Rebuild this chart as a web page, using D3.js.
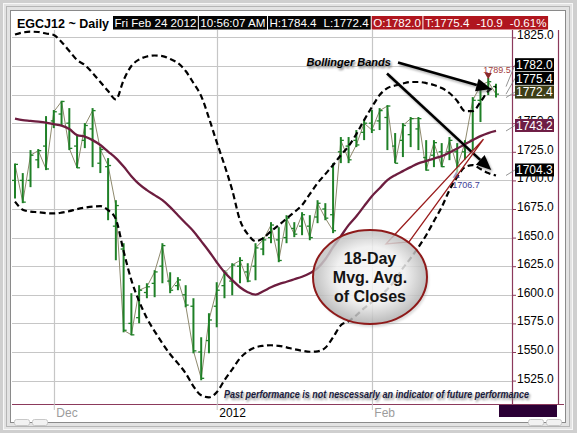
<!DOCTYPE html>
<html><head><meta charset="utf-8">
<script src="https://cdn.jsdelivr.net/npm/d3@7"></script>
<style>body{margin:0;background:#fff}svg{display:block}</style>
</head><body>
<script>
// ---------- DATA ----------
const dates = [
 "2011-11-23","2011-11-25","2011-11-28","2011-11-29","2011-11-30",
 "2011-12-01","2011-12-02","2011-12-05","2011-12-06","2011-12-07","2011-12-08","2011-12-09",
 "2011-12-12","2011-12-13","2011-12-14","2011-12-15","2011-12-16","2011-12-19","2011-12-20",
 "2011-12-21","2011-12-22","2011-12-23","2011-12-27","2011-12-28","2011-12-29","2011-12-30",
 "2012-01-03","2012-01-04","2012-01-05","2012-01-06","2012-01-09","2012-01-10","2012-01-11",
 "2012-01-12","2012-01-13","2012-01-17","2012-01-18","2012-01-19","2012-01-20","2012-01-23",
 "2012-01-24","2012-01-25","2012-01-26","2012-01-27","2012-01-30","2012-01-31",
 "2012-02-01","2012-02-02","2012-02-03","2012-02-06","2012-02-07","2012-02-08","2012-02-09",
 "2012-02-10","2012-02-13","2012-02-14","2012-02-15","2012-02-16","2012-02-17","2012-02-21",
 "2012-02-22","2012-02-23","2012-02-24"];
const opens = [1700,1700,1700,1718,1730,1752,1758,1750,1730,1735,1745,1715,1712,1660,1640,1575,1580,1602,1610,1625,1612,1608,1600,1590,1550,1560,1590,1608,1612,1625,1620,1625,1640,1650,1648,1650,1658,1660,1660,1668,1675,1670,1725,1730,1735,1742,1750,1752,1755,1730,1735,1740,1745,1720,1722,1725,1725,1725,1725,1735,1770,1782,1782.0];
const highs = [1714.8,1706.4,1726.5,1727.4,1756.2,1761.5,1769.6,1763.2,1739.6,1750.1,1763.2,1729.1,1719.5,1682.7,1645.1,1601.4,1608.4,1610.1,1621.5,1645.1,1619.7,1615.4,1608.4,1597.0,1562.9,1583.9,1611.0,1621.5,1627.6,1632.9,1627.6,1645.1,1650.4,1663.5,1659.1,1669.6,1663.5,1672.2,1669.6,1682.7,1680.1,1715.1,1737.9,1737.9,1744.0,1752.7,1761.5,1763.2,1765.8,1741.4,1750.1,1755.4,1755.4,1735.2,1735.2,1732.6,1737.9,1732.6,1735.2,1772.8,1785.1,1789.5,1784.4];
const lows = [1684.2,1680.1,1694.1,1710.7,1709.0,1745.7,1748.4,1726.5,1710.7,1728.2,1711.6,1706.4,1665.2,1630.2,1567.2,1564.6,1575.1,1597.0,1597.9,1610.1,1601.4,1604.0,1589.1,1548.9,1525.3,1548.9,1571.6,1597.0,1599.6,1610.1,1611.0,1612.7,1634.6,1645.1,1628.5,1645.1,1650.4,1652.1,1647.7,1662.6,1665.2,1653.9,1715.1,1715.1,1729.1,1735.2,1741.4,1744.0,1726.5,1715.1,1720.4,1729.1,1726.5,1708.5,1711.6,1711.6,1717.7,1706.7,1717.7,1726.5,1751.0,1774.6,1772.4];
const closes = [1714,1681,1722,1726,1710,1760,1769,1728,1711,1748,1761,1727,1713,1678,1569,1565,1604,1607,1620,1643,1604,1613,1591,1551,1527,1578,1604,1619,1626,1630,1612,1641,1648,1661,1630,1667,1653,1670,1650,1680,1667,1656,1735,1718,1731,1750,1744,1761,1765,1715,1748,1754,1754,1709,1733,1712,1735,1712,1733,1770,1783,1786.3,1775.4];
const ma18 = [1754.0,1752.7,1752.1,1751.4,1750.5,1749.2,1747.9,1744.9,1739.6,1738.3,1735.2,1730.9,1725.2,1719.5,1712.1,1703.7,1696.7,1691.5,1687.1,1682.7,1676.6,1669.6,1662.6,1655.6,1646.9,1638.1,1628.5,1619.7,1612.8,1606.6,1602.3,1600.1,1603.1,1606.6,1609.3,1611.4,1613.6,1615.8,1618.9,1623.3,1631.1,1641.6,1651.2,1660.9,1668.7,1677.5,1686.2,1693.2,1700.2,1704.6,1708.1,1711.6,1714.9,1716.9,1719.1,1721.2,1724.3,1727.8,1731.7,1735.2,1738.7,1741.4,1743.2];
const bbUpper = [1827.5,1829.3,1830.0,1829.7,1828.4,1827.1,1821.0,1813.1,1805.2,1800.9,1793.9,1786.0,1778.1,1770.8,1787.7,1800.0,1805.7,1808.3,1809.2,1808.7,1806.1,1802.6,1795.6,1785.1,1773.7,1754.5,1733.5,1713.4,1691.5,1665.2,1653.0,1646.9,1649.5,1655.6,1660.9,1666.6,1672.2,1678.4,1688.0,1697.6,1705.5,1713.4,1722.1,1730.0,1740.5,1752.7,1764.1,1774.6,1780.7,1782.9,1784.7,1786.0,1786.0,1785.1,1783.4,1780.7,1776.4,1769.4,1760.6,1760.6,1768.5,1778.1,1782.0];
const bbLower = [1681.4,1674.4,1672.7,1672.2,1671.4,1671.1,1671.8,1673.1,1674.9,1676.2,1677.1,1677.5,1674.0,1666.1,1638.1,1612.8,1594.4,1579.5,1568.1,1557.6,1548.0,1540.1,1531.4,1520.0,1512.1,1510.4,1514.8,1525.3,1534.9,1544.5,1550.6,1554.1,1555.4,1555.9,1555.4,1554.1,1552.4,1551.1,1550.2,1550.6,1553.7,1562.9,1573.4,1576.9,1582.1,1588.3,1593.5,1598.8,1604.9,1612.8,1623.3,1632.0,1641.6,1652.1,1664.4,1676.6,1691.5,1703.0,1711.6,1713.4,1709.9,1706.4,1704.3];
const yTicks = [1525,1550,1575,1600,1625,1650,1675,1700,1725,1750,1775,1800,1825];
const monthTicks = ["2011-12-01","2012-01-03","2012-02-01"];
const monthLabels = ["Dec","2012","Feb"];
const headerTitle = "EGCJ12 ~ Daily";
const headerItems = [["Fri Feb 24 2012"],["10:56:07 AM"],["H:1784.4","L:1772.4"],["O:1782.0"],["T:1775.4","-10.9","-0.61%"]];
const headerKinds = ["dark","dark","dark","red","red"];
const lastValues = [1782.0,1775.4,1772.4,1743.2,1704.3];
const lastKinds = ["upper","last","low","ma","lower"];
const swingHigh = {i:61, value:1789.5};
const swingLow = {i:57, value:1706.7};

// ---------- SETUP ----------
const W=577,H=433;
const L=12,R=512,T=30,B=404;
const FONT="'Liberation Sans', Arial, sans-serif";
const svg=d3.select("body").append("svg").attr("width",W).attr("height",H).style("font-family",FONT);
const defs=svg.append("defs");
defs.append("clipPath").attr("id","plotclip").append("rect").attr("x",L).attr("y",T).attr("width",R-L).attr("height",B-T);
const blur=defs.append("filter").attr("id","blur").attr("x","-20%").attr("y","-50%").attr("width","140%").attr("height","200%");
blur.append("feGaussianBlur").attr("stdDeviation",1);
const rg=defs.append("radialGradient").attr("id","bubble").attr("cx","50%").attr("cy","48%").attr("r","55%");
rg.append("stop").attr("offset","0%").attr("stop-color","#ffffff");
rg.append("stop").attr("offset","55%").attr("stop-color","#f6f6f6");
rg.append("stop").attr("offset","100%").attr("stop-color","#a9a9a9");

// frame
svg.append("rect").attr("width",W).attr("height",H).attr("fill","#cfcfcf");
svg.append("rect").attr("x",3.5).attr("y",3.5).attr("width",569).attr("height",426).attr("fill","#e3e3e3").attr("stroke","#f7f7f7");
svg.append("rect").attr("x",6.5).attr("y",6.5).attr("width",563).attr("height",420).attr("fill","none").attr("stroke","#b5b5b5");
svg.append("rect").attr("x",10.5).attr("y",10.5).attr("width",555).attr("height",412).attr("fill","#fff").attr("stroke","#8a8a8a");
[[14,419],[32,419],[528,419],[546,419]].forEach(p=>svg.append("rect").attr("x",p[0]+0.5).attr("y",p[1]+0.5).attr("width",15).attr("height",6).attr("rx",2).attr("fill","#f2f2f2").attr("stroke","#c8c8c8"));

const x=d3.scalePoint().domain(dates).range([15,496]);
const y=d3.scaleLinear().domain([1525,1825]).range([380.6,37.4]);

// grid
const grid=svg.append("g");
grid.selectAll(".hg").data(yTicks).join("line")
 .attr("x1",L).attr("x2",R).attr("y1",d=>Math.round(y(d))+0.5).attr("y2",d=>Math.round(y(d))+0.5)
 .attr("stroke","#c6c6c6").attr("stroke-width",1.2);
grid.selectAll(".vg").data(monthTicks).join("line")
 .attr("x1",d=>Math.round(x(d))+0.5).attr("x2",d=>Math.round(x(d))+0.5).attr("y1",T).attr("y2",B)
 .attr("stroke","#c6c6c6").attr("stroke-width",1.2);

// ---------- PRICE ----------
const plot=svg.append("g").attr("clip-path","url(#plotclip)");
const idx=d3.range(dates.length);
plot.append("path").datum(idx).attr("fill","none").attr("stroke","#8f8a6e").attr("stroke-width",1)
 .attr("d",d3.line().x(i=>x(dates[i])).y(i=>y(closes[i])));
const bars=plot.append("g").attr("stroke","#1f8027");
bars.selectAll(".hl").data(idx).join("line")
 .attr("x1",i=>x(dates[i])).attr("x2",i=>x(dates[i])).attr("y1",i=>y(highs[i])).attr("y2",i=>y(lows[i])).attr("stroke-width",2);
bars.selectAll(".op").data(idx).join("line")
 .attr("x1",i=>x(dates[i])-3).attr("x2",i=>x(dates[i])).attr("y1",i=>y(opens[i])).attr("y2",i=>y(opens[i])).attr("stroke-width",1.3);
bars.selectAll(".cl").data(idx).join("line")
 .attr("x1",i=>x(dates[i])).attr("x2",i=>x(dates[i])+3).attr("y1",i=>y(closes[i])).attr("y2",i=>y(closes[i])).attr("stroke-width",1.3);

plot.append("path").datum(idx).attr("fill","none").attr("stroke","#6d1d3f").attr("stroke-width",2.3)
 .attr("d",d3.line().curve(d3.curveMonotoneX).x(i=>x(dates[i])).y(i=>y(ma18[i])));
[bbUpper,bbLower].forEach(arr=>{
 plot.append("path").datum(idx).attr("fill","none").attr("stroke","#000").attr("stroke-width",2.2)
  .attr("stroke-dasharray","6,3.5")
  .attr("d",d3.line().curve(d3.curveMonotoneX).x(i=>x(dates[i])).y(i=>y(arr[i])));
});

// swing markers
const sh=svg.append("g");
sh.append("path").attr("d",d3.symbol(d3.symbolTriangle,22)()).attr("transform",`translate(${x(dates[swingHigh.i])},${y(swingHigh.value)-3}) rotate(180)`).attr("fill","#8b2a2a");
sh.append("text").attr("x",x(dates[swingHigh.i])-5).attr("y",y(swingHigh.value)-5).attr("font-size",9).attr("fill","#a23c3c").text(swingHigh.value.toFixed(1));
sh.append("path").attr("d",d3.symbol(d3.symbolTriangle,22)()).attr("transform",`translate(${x(dates[swingLow.i])-1},${y(swingLow.value)+3})`).attr("fill","#2c2c78");
sh.append("text").attr("x",x(dates[swingLow.i])-5).attr("y",y(swingLow.value)+15).attr("font-size",9).attr("fill","#3e3e96").text(swingLow.value.toFixed(1));

// ---------- AXES ----------
const AX="#8c3a5c";
const yAxis=svg.append("g").attr("transform",`translate(${R},0)`)
 .call(d3.axisRight(y).tickValues(yTicks).tickFormat(d3.format(".1f")).tickSize(4).tickPadding(1));
yAxis.select(".domain").remove();
yAxis.selectAll(".tick line").attr("stroke",AX);
yAxis.selectAll(".tick text").attr("font-family",FONT).attr("font-size",12).attr("fill","#000").attr("dy","0.12em");
svg.append("line").attr("x1",R+0.5).attr("x2",R+0.5).attr("y1",T).attr("y2",B).attr("stroke",AX).attr("stroke-width",1.2);
svg.append("line").attr("x1",558.5).attr("x2",558.5).attr("y1",T).attr("y2",B).attr("stroke",AX).attr("stroke-width",1.2);
svg.append("line").attr("x1",L).attr("x2",564).attr("y1",B+0.5).attr("y2",B+0.5).attr("stroke",AX).attr("stroke-width",1.2);

const xAxis=svg.append("g").attr("transform",`translate(0,${B})`)
 .call(d3.axisBottom(x).tickValues(monthTicks).tickFormat((d,i)=>monthLabels[i]).tickSize(6).tickPadding(1));
xAxis.select(".domain").remove();
xAxis.selectAll(".tick line").attr("stroke","#c6c6c6");
xAxis.selectAll(".tick text").attr("font-family",FONT).attr("font-size",12).attr("text-anchor","start")
 .attr("x",2).attr("y",0).attr("dy","13px").attr("fill",(d,i)=>i===1?"#000":"#9c9c9c");
svg.append("rect").attr("x",499).attr("y",405).attr("width",58).attr("height",12).attr("fill","#2b0035");

// last-value labels
const boxH=13, gap=13.7;
const kindColor={upper:"#000",last:"#000",low:"#3e3e16",ma:"#6e1d45",lower:"#000"};
const order=d3.range(lastValues.length).sort((a,b)=>lastValues[a]-lastValues[b]);
const centers={}; let prev=Infinity;
order.forEach(k=>{let c=y(lastValues[k])-5.5; if(c>prev-gap) c=prev-gap; centers[k]=c; prev=c;});
const lab=svg.append("g");
d3.range(lastValues.length).forEach(k=>{
 lab.append("line").attr("x1",506).attr("y1",y(lastValues[k])).attr("x2",515).attr("y2",centers[k]).attr("stroke","#7a7a7a").attr("stroke-width",0.8);
 lab.append("rect").attr("x",515).attr("y",centers[k]-boxH/2).attr("width",39).attr("height",boxH).attr("fill",kindColor[lastKinds[k]]);
 lab.append("text").attr("x",516).attr("y",centers[k]+4.3).attr("font-size",12).attr("fill","#fff").text(lastValues[k].toFixed(1));
});

// ---------- HEADER ----------
const hd=svg.append("g");
hd.append("text").attr("x",17).attr("y",28).attr("font-size",12.5).attr("font-weight","bold").attr("fill","#000").text(headerTitle);
let cx=113;
headerItems.forEach((parts,k)=>{
 const g=hd.append("g");
 const r=g.append("rect").attr("y",16).attr("height",13.5).attr("fill",headerKinds[k]==="red"?"#b0161e":"#050505");
 const tx=g.append("text").attr("x",cx+1.5).attr("y",27).attr("font-size",11.6).attr("fill","#fff");
 parts.forEach((p,j)=>tx.append("tspan").attr("dx",j===0?0:7).text(p));
 const bb=tx.node().getBBox();
 r.attr("x",cx).attr("width",bb.width+3);
 cx+=bb.width+4;
});

// ---------- ANNOTATIONS ----------
const an=svg.append("g");
function arrow(g,x1,y1,x2,y2,col){
 const a=Math.atan2(y2-y1,x2-x1), hl=15, hw=6.5;
 const bx=x2-hl*Math.cos(a), by=y2-hl*Math.sin(a);
 g.append("line").attr("x1",x1).attr("y1",y1).attr("x2",bx).attr("y2",by).attr("stroke",col).attr("stroke-width",2.6);
 g.append("polygon").attr("points",[[x2,y2],[bx+hw*Math.sin(a),by-hw*Math.cos(a)],[bx-hw*Math.sin(a),by+hw*Math.cos(a)]].map(p=>p.join(",")).join(" ")).attr("fill",col);
}
const tipU=[x(dates[61])+3,y(bbUpper[61])-2], tipL=[x(dates[61])+3,y(bbLower[61])-3];
const shG=an.append("g").attr("transform","translate(1.5,2)").attr("filter","url(#blur)").attr("opacity",0.45);
arrow(shG,398,62.5,tipU[0],tipU[1],"#555");
arrow(shG,387,73.5,tipL[0],tipL[1],"#555");
const arG=an.append("g");
arrow(arG,398,62.5,tipU[0],tipU[1],"#000");
arrow(arG,387,73.5,tipL[0],tipL[1],"#000");
an.append("text").attr("x",308).attr("y",67.5).attr("font-size",11).attr("font-weight","bold").attr("font-style","italic").attr("fill","#777").attr("filter","url(#blur)").text("Bollinger Bands");
an.append("text").attr("x",306.5).attr("y",66).attr("font-size",11).attr("font-weight","bold").attr("font-style","italic").attr("fill","#000").text("Bollinger Bands");

// callout
const tip=[x(dates[60])+3,y(ma18[60])+3];
an.append("polygon").attr("points",[[386,244],tip,[409,242]].map(p=>p.join(",")).join(" "))
 .attr("fill","#fff").attr("fill-opacity",0.55).attr("stroke","#9a1c1c").attr("stroke-width",1.3);
an.append("ellipse").attr("cx",372).attr("cy",280).attr("rx",57).attr("ry",47).attr("fill","#777").attr("opacity",0.25).attr("filter","url(#blur)");
an.append("ellipse").attr("cx",370).attr("cy",277).attr("rx",57).attr("ry",47).attr("fill","url(#bubble)").attr("fill-opacity",0.8)
 .attr("stroke","#8e1a1a").attr("stroke-width",2);
["18-Day","Mvg. Avg.","of Closes"].forEach((t,k)=>{
 an.append("text").attr("x",370).attr("y",263.5+k*19).attr("text-anchor","middle").attr("font-size",16).attr("font-weight","bold").attr("fill","#141414").text(t);
});

// disclaimer
const disc="Past performance is not nescessarly an indicator of future performance";
an.append("text").attr("x",225.5).attr("y",399.5).attr("font-size",10).attr("font-weight","bold").attr("font-style","italic").attr("fill","#888").attr("filter","url(#blur)")
 .attr("textLength",305).attr("lengthAdjust","spacingAndGlyphs").text(disc);
an.append("text").attr("x",224).attr("y",398).attr("font-size",10).attr("font-weight","bold").attr("font-style","italic").attr("fill","#1b1b3d")
 .attr("textLength",305).attr("lengthAdjust","spacingAndGlyphs").text(disc);
</script>
</body></html>
